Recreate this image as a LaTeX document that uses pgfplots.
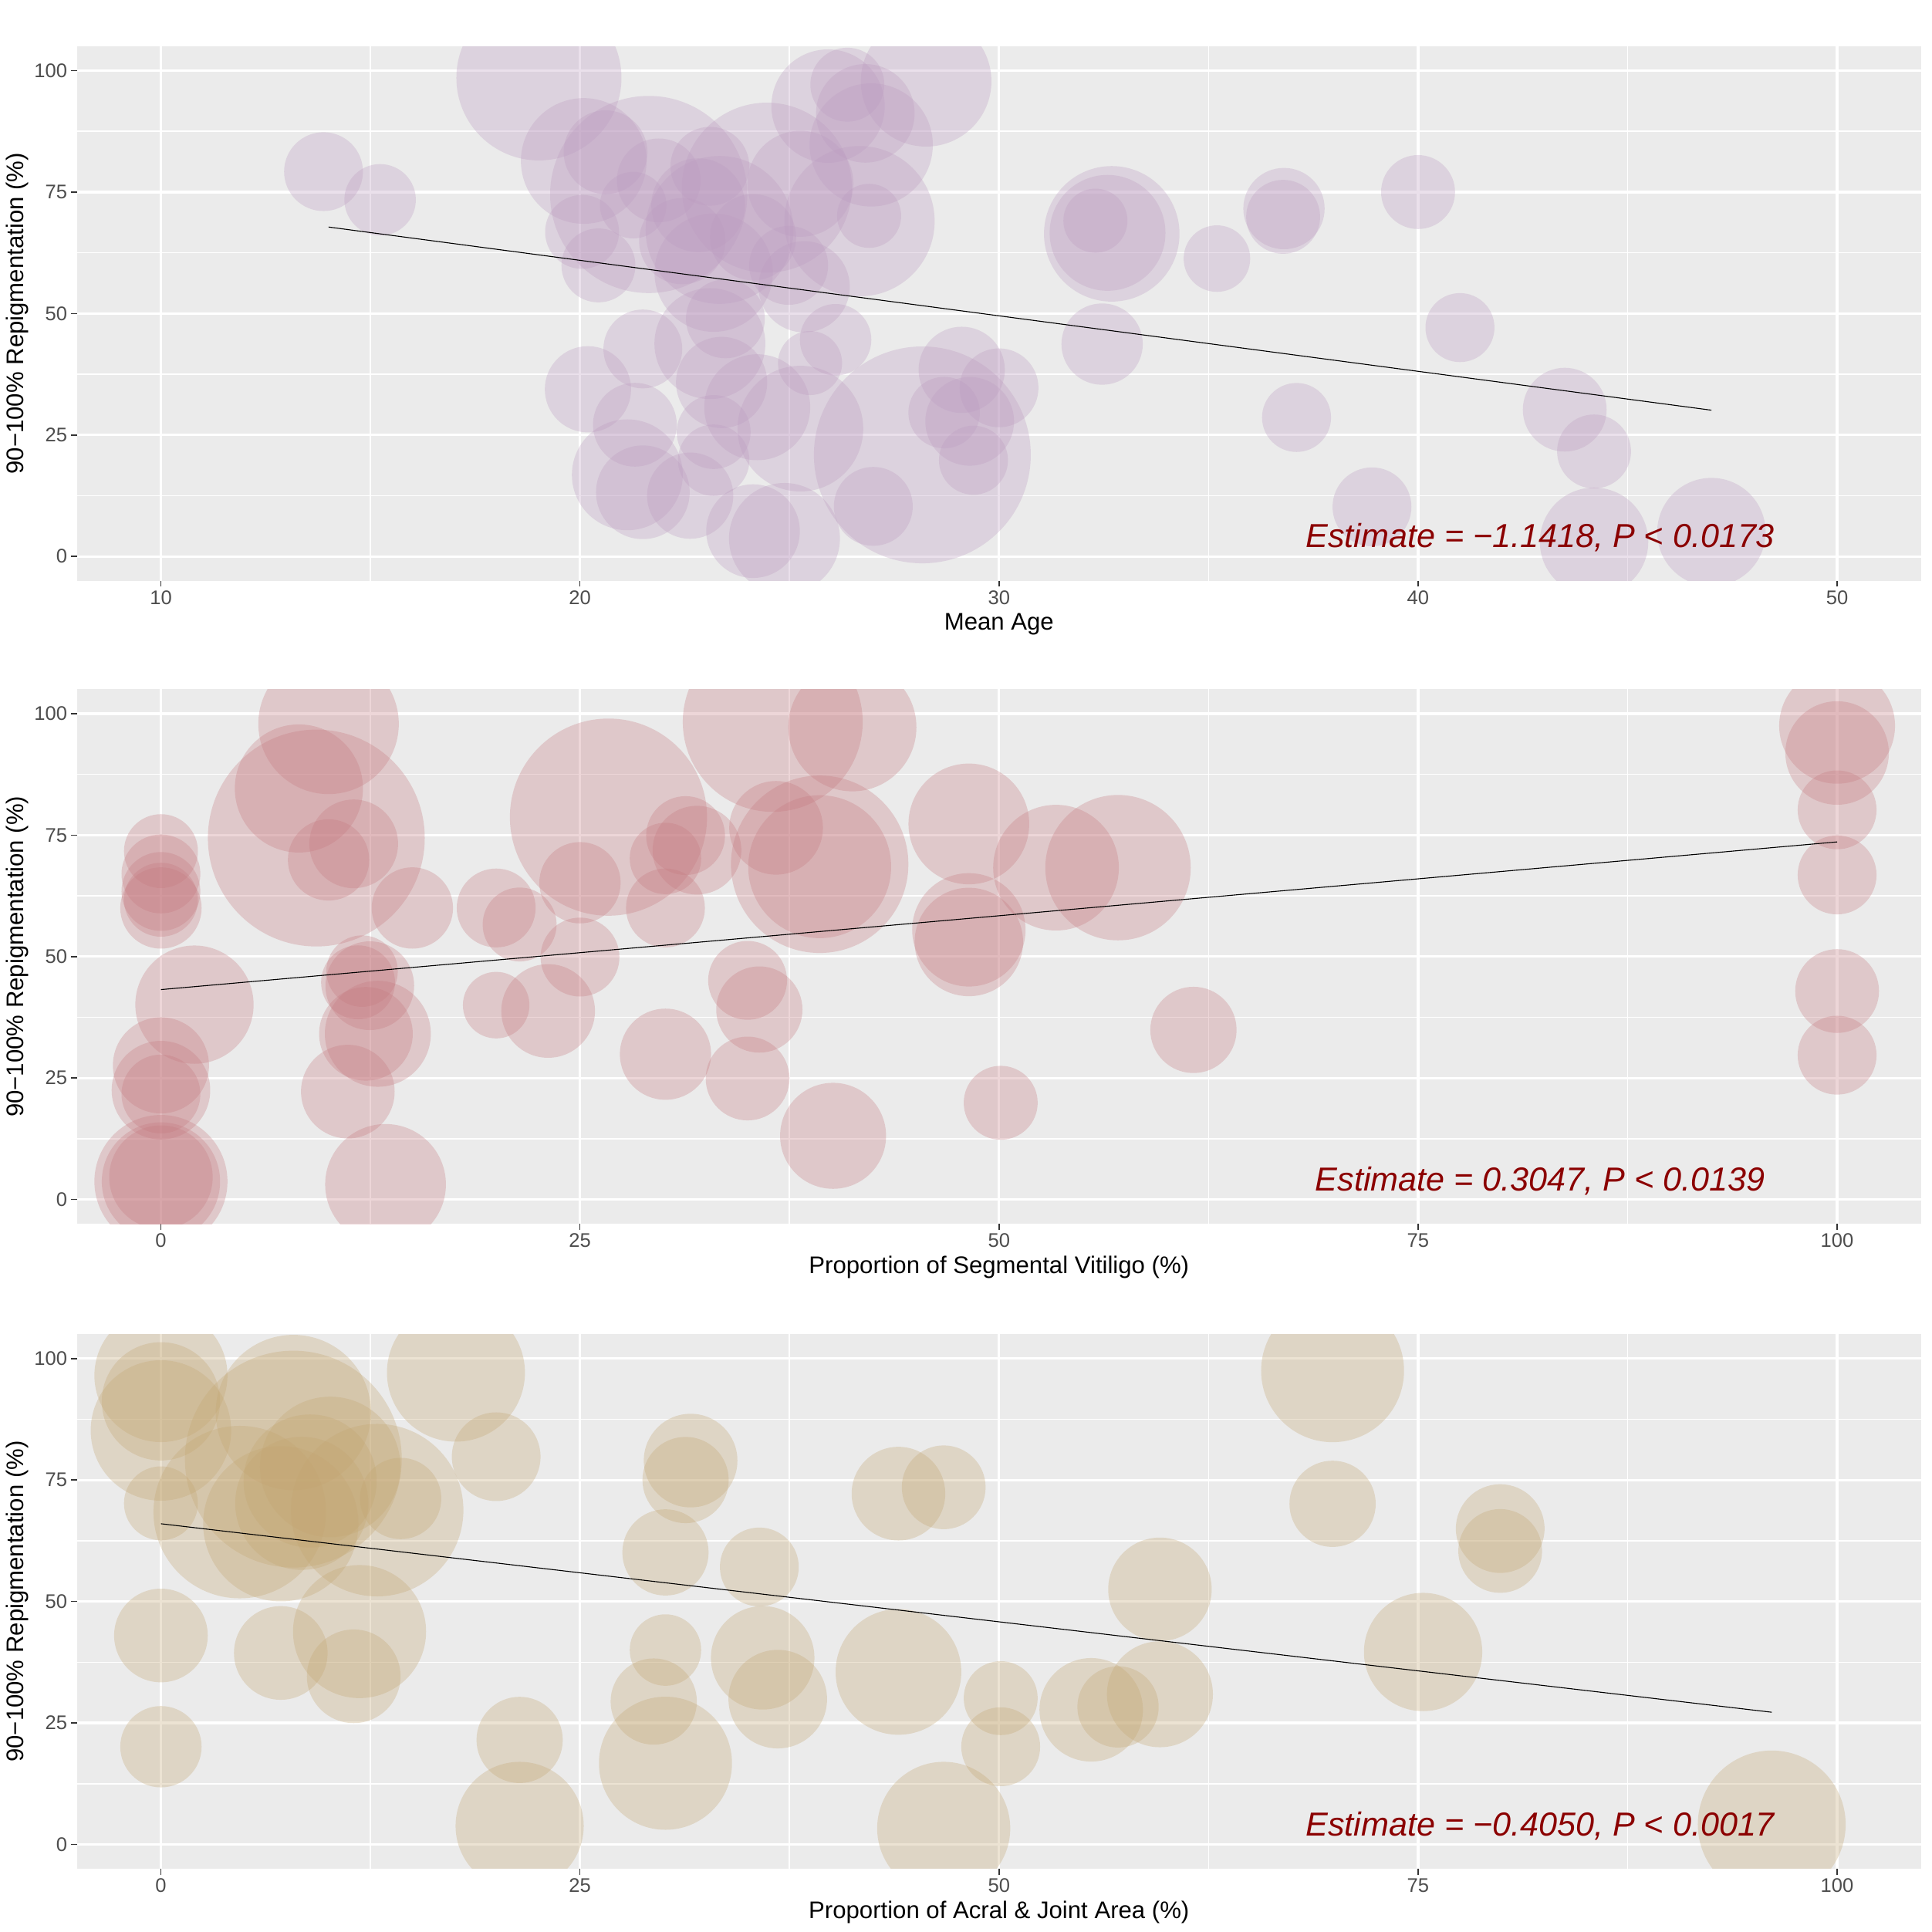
\documentclass[border=0pt]{standalone}
\usepackage{fontspec}
\setmainfont{Liberation Sans}
\usepackage{pgfplots}
\pgfplotsset{compat=1.18}
\usepackage{pgfplotstable}
\definecolor{bgc}{RGB}{235,235,235}
\definecolor{pA}{RGB}{188,155,192}
\definecolor{pB}{RGB}{198,122,128}
\definecolor{pC}{RGB}{195,165,112}
\definecolor{annot}{RGB}{139,0,0}
\definecolor{tlab}{RGB}{77,77,77}
\definecolor{tmark}{RGB}{51,51,51}

\pgfplotstableread{
x y r
19.02 98.5 67
13.88 79.2 32
15.23 73.4 29
20.09 81.4 51
20.61 83.2 34
21.64 74.5 80
24.46 75.9 69
25.92 92.7 46
26.81 91.2 40
28.26 97.8 53
26.38 97.1 30
26.95 84.7 50
26.90 70.1 26
26.67 69.0 61
25.26 76.7 43
20.05 66.8 30
20.44 59.9 30
21.27 72.3 27
21.88 77.4 34
23.10 80.3 32
23.33 67.2 60
22.82 72.3 38
23.19 58.4 48
24.98 59.9 32
25.35 55.5 37
23.47 48.9 32
21.50 42.7 32
23.10 43.8 45
26.10 44.6 29
25.49 39.8 26
20.19 34.4 35
21.31 27.1 34
23.38 35.8 37
24.23 30.7 43
23.19 25.6 30
23.19 19.8 29
21.13 16.8 45
21.50 13.2 38
22.63 12.5 35
24.13 5.2 38
24.88 3.7 45
25.26 26.3 51
28.17 20.9 88
27.00 10.3 32
29.11 38.4 35
30.00 34.7 32
28.69 29.6 29
29.30 27.8 36
29.39 19.8 28
22.44 64.9 35
24.13 65.7 35
32.69 66.4 55
32.59 66.6 47
32.30 69.1 26
35.20 61.3 27
36.80 71.6 33
36.78 69.9 30
40.00 75.0 30
32.46 43.7 33
41.00 47.1 28
37.10 28.6 28
43.50 30.2 34
44.20 21.6 30
38.90 10.2 32
44.20 3.0 44
47.00 5.0 44
}\dataA

\pgfplotstableread{
x y r
0 71.7 30
0 67.0 32
0 63.4 32
0 60.0 33
0 61.7 30
0 27.6 39
0 22.5 40
0 21.7 32
0 3.7 54
0 4.6 42
0 3.7 48
2.0 40.1 48
9.27 74.4 88
8.23 84.6 52
10.0 97.9 57
10.0 69.9 33
11.5 73.2 36
15.0 60.0 33
11.76 44.7 30
12.0 47.0 29
12.46 44.0 36
12.23 34.1 38
12.94 34.1 43
11.15 22.2 38
13.4 3.1 49
20.0 60.0 32
21.4 56.6 30
20.0 40.0 27
23.1 38.8 38
25.0 65.2 33
25.0 49.9 32
26.7 78.7 80
30.1 70.2 29
31.3 74.9 32
31.98 71.9 36
30.1 60.0 32
30.1 29.9 37
36.5 98.3 73
41.25 97.2 52
36.7 76.5 38
39.3 69.0 72
39.3 68.5 58
35.0 45.1 32
35.7 39.1 35
35.0 24.9 34
40.1 13.1 43
48.2 77.3 49
48.2 55.5 46
48.2 53.0 44
53.4 68.3 51
57.1 68.3 59
50.1 19.9 30
61.6 34.9 35
100 97.5 47
100 91.9 42
100 80.2 32
100 66.8 32
100 42.9 34
100 29.7 32
}\dataB

\pgfplotstableread{
x y r
0 96.5 54
0 91.2 48
0 85.2 57
0 70.2 30
0 43.0 38
0 20.1 33
7.9 88.9 63
7.9 79.3 88
4.7 68.4 70
12.9 68.8 70
7.15 66.0 63
8.4 70.2 54
8.9 74.8 54
10.1 77.7 57
14.3 71.2 33
17.6 97.1 56
20.0 79.8 36
7.15 39.4 38
11.85 43.8 54
11.5 34.6 38
21.4 21.5 35
21.4 3.8 52
30.1 60.1 35
31.6 79.0 38
31.3 75.0 35
30.1 40.0 29
29.4 29.4 35
30.1 16.7 54
35.7 57.1 32
35.9 38.4 42
36.8 29.9 40
44.0 72.2 38
46.7 73.5 34
44.0 35.5 51
46.7 3.3 54
50.1 30.1 30
50.1 20.1 32
55.5 27.7 42
57.1 28.3 33
59.6 52.5 42
59.6 30.9 43
69.9 97.5 58
69.9 70.1 35
79.9 65.0 36
79.9 60.4 34
75.3 39.6 48
96.1 4.1 60
}\dataC

\pgfplotsset{
  panel/.style={
    at={(62.6pt,#1)}, anchor=south west,
    scale only axis, width=1496.4pt, height=433.7pt,
    ymin=-5, ymax=105,
    ytick={0,25,50,75,100}, minor ytick={12.5,37.5,62.5,87.5},
    grid=both,
    major grid style={white, line width=2pt},
    minor grid style={white, line width=1pt},
    axis background/.style={fill=bgc},
    axis line style={draw=none},
    tick align=outside, tick pos=left,
    major tick length=4.9pt, minor tick length=0pt,
    tick style={color=tmark, line width=1pt},
    ticklabel style={font=\fontsize{16}{16}\selectfont, text=tlab, inner sep=3pt},
    /pgf/number format/assume math mode=true,
    xlabel style={at={(axis description cs:0.5,-0.0927)}, anchor=base, font=\fontsize{19.5}{20}\selectfont},
    ylabel style={at={(axis description cs:-0.0291,0.5)}, anchor=base, font=\fontsize{19.5}{20}\selectfont},
    ylabel={90−100\% Repigmentation (\%)},
    clip marker paths=true,
  },
  bub/.style={scatter, only marks, mark=*,
    scatter/use mapped color={draw=#1, fill=#1, fill opacity=0.3, draw opacity=0},
    visualization depends on={\thisrow{r}\as\rr},
    scatter/@pre marker code/.append style={/tikz/mark size=\rr pt}},
}

\begin{document}
\begin{tikzpicture}
\useasboundingbox (0,0) rectangle (1568pt,1568pt);
\fill[white] (0,0) rectangle (1568pt,1568pt);

\begin{axis}[panel=1096.7pt, xmin=8, xmax=52,
  xtick={10,20,30,40,50}, minor xtick={15,25,35,45},
  xlabel={Mean Age}]
\addplot[bub=pA] table[x=x,y=y] {\dataA};
\addplot[black, line width=0.7pt] coordinates {(14,67.8) (47,30.1)};
\node[anchor=base, text=annot, font=\fontsize{27}{27}\selectfont\itshape] at (rel axis cs:0.7935,0.0618) {Estimate = −1.1418, P < 0.0173};
\end{axis}

\begin{axis}[panel=574.8pt, xmin=-5, xmax=105,
  xtick={0,25,50,75,100}, minor xtick={12.5,37.5,62.5,87.5},
  xlabel={Proportion of Segmental Vitiligo (\%)}]
\addplot[bub=pB] table[x=x,y=y] {\dataB};
\addplot[black, line width=0.7pt] coordinates {(0,43.2) (100,73.6)};
\node[anchor=base, text=annot, font=\fontsize{27}{27}\selectfont\itshape] at (rel axis cs:0.7935,0.0618) {Estimate = 0.3047, P < 0.0139};
\end{axis}

\begin{axis}[panel=51.4pt, xmin=-5, xmax=105,
  xtick={0,25,50,75,100}, minor xtick={12.5,37.5,62.5,87.5},
  xlabel={Proportion of Acral \& Joint Area (\%)}]
\addplot[bub=pC] table[x=x,y=y] {\dataC};
\addplot[black, line width=0.7pt] coordinates {(0,66.0) (96.1,27.2)};
\node[anchor=base, text=annot, font=\fontsize{27}{27}\selectfont\itshape] at (rel axis cs:0.7935,0.0618) {Estimate = −0.4050, P < 0.0017};
\end{axis}
\end{tikzpicture}
\end{document}
